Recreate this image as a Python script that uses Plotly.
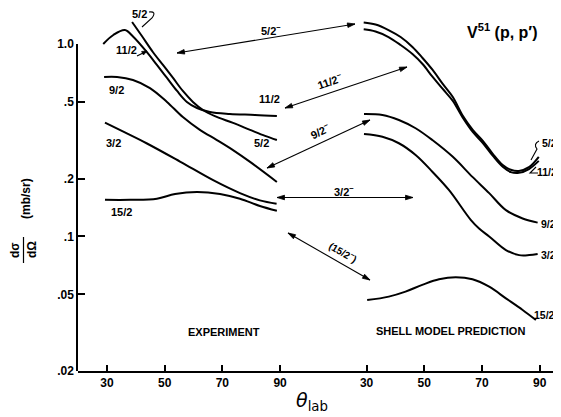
import math
import plotly.graph_objects as go

# ---------------- data (theta_lab in degrees, dsigma/dOmega in mb/sr) ----------------
# Experiment
exp_11_2_theta = [28.7, 32.2, 36.2, 39.1, 43.7, 47.3, 50.8, 54.3, 57.7, 61.2, 65.7, 72.6, 81.3, 88.9]
exp_11_2_val = [1.00, 1.114, 1.182, 1.091, 0.912, 0.778, 0.666, 0.570, 0.500, 0.465, 0.443, 0.433, 0.428, 0.422]

exp_5_2_theta = [38.7, 42.1, 45.9, 49.4, 52.9, 56.3, 59.8, 63.3, 67.4, 73.7, 79.6, 84.8, 88.9]
exp_5_2_val = [1.301, 1.100, 0.909, 0.778, 0.666, 0.570, 0.500, 0.454, 0.422, 0.389, 0.358, 0.333, 0.317]

exp_9_2_theta = [29.0, 33.5, 39.0, 44.9, 50.8, 56.3, 62.2, 68.1, 73.7, 79.6, 88.9]
exp_9_2_val = [0.674, 0.674, 0.650, 0.590, 0.500, 0.417, 0.358, 0.317, 0.281, 0.244, 0.192]

exp_3_2_theta = [29.3, 36.2, 43.7, 55.3, 66.8, 76.1, 83.0, 88.8]
exp_3_2_val = [0.390, 0.347, 0.305, 0.245, 0.196, 0.168, 0.154, 0.148]

exp_15_2_theta = [29.3, 38.0, 47.3, 53.6, 61.2, 69.2, 76.1, 83.0, 88.9]
exp_15_2_val = [0.155, 0.155, 0.157, 0.166, 0.170, 0.166, 0.157, 0.144, 0.136]

# Shell model prediction
sm_5_2_theta = [29.0, 33.1, 37.6, 41.8, 45.9, 49.4, 52.9, 56.4, 59.9, 63.3, 66.8, 70.3, 73.8, 77.2, 80.0, 82.8, 86.3, 89.7]
sm_5_2_val = [1.293, 1.263, 1.182, 1.087, 0.965, 0.846, 0.733, 0.620, 0.530, 0.425, 0.358, 0.314, 0.268, 0.235, 0.222, 0.219, 0.229, 0.259]

sm_11_2_theta = [29.0, 33.1, 37.6, 41.8, 45.9, 49.4, 52.9, 56.4, 59.9, 63.3, 66.8, 70.3, 73.8, 77.2, 80.0, 82.8, 86.3, 89.7]
sm_11_2_val = [1.192, 1.161, 1.087, 0.988, 0.887, 0.787, 0.674, 0.584, 0.506, 0.415, 0.349, 0.306, 0.262, 0.230, 0.216, 0.214, 0.224, 0.247]

sm_9_2_theta = [29.1, 35.5, 41.2, 47.0, 52.8, 59.8, 66.7, 72.5, 78.3, 84.1, 89.3]
sm_9_2_val = [0.433, 0.428, 0.403, 0.365, 0.317, 0.260, 0.204, 0.168, 0.137, 0.124, 0.118]

sm_3_2_theta = [29.1, 35.5, 41.2, 47.0, 52.8, 58.6, 66.1, 69.0, 72.5, 78.3, 82.9, 86.4, 89.3]
sm_3_2_val = [0.341, 0.330, 0.305, 0.265, 0.217, 0.174, 0.122, 0.110, 0.100, 0.085, 0.080, 0.080, 0.081]

sm_15_2_theta = [30.2, 37.7, 43.5, 49.3, 55.1, 60.9, 66.7, 72.5, 78.3, 84.1, 88.7]
sm_15_2_val = [0.0467, 0.0487, 0.0517, 0.0560, 0.0599, 0.0614, 0.0599, 0.0548, 0.0477, 0.0415, 0.0368]

x_tick_labels = ["30", "50", "70", "90", "30", "50", "70", "90"]
y_tick_vals = [0.02, 0.05, 0.1, 0.2, 0.5, 1.0]
y_tick_labels = [".02", ".05", ".1", ".2", ".5", "1.0"]

# ---------------- layout helpers ----------------
# The page body has an 8 px margin, so the figure is made 8 px smaller and all
# positions below are given in page pixels of the 561x417 window.
OFF = 90            # shell-model panel shares the x axis, shifted by this many degrees
PAGE = 8
W, H = 561 - PAGE, 417 - PAGE
PLOT_L, PLOT_T, PLOT_B, PLOT_R = 78, 8, 371, 561   # plot area in page pixels
L = PLOT_L - PAGE
T = PLOT_T - PAGE
B = (H + PAGE) - PLOT_B
PW = PLOT_R - PLOT_L
PH = PLOT_B - PLOT_T
Y_LO, Y_TOP = math.log10(0.02), 0.18701   # full data range (log10)
AXIS_TOP = 44                               # page row where the drawn y axis ends (value 1.0)


def px(x):
    return (x - PLOT_L) / PW


def py(y):
    return (PLOT_B - y) / PH


FONT = "Liberation Sans"
fig = go.Figure()

panels = [
    (0, [exp_11_2_theta, exp_5_2_theta, exp_9_2_theta, exp_3_2_theta, exp_15_2_theta],
     [exp_11_2_val, exp_5_2_val, exp_9_2_val, exp_3_2_val, exp_15_2_val]),
    (OFF, [sm_5_2_theta, sm_11_2_theta, sm_9_2_theta, sm_3_2_theta, sm_15_2_theta],
     [sm_5_2_val, sm_11_2_val, sm_9_2_val, sm_3_2_val, sm_15_2_val]),
]
for off, thetas, vals in panels:
    for th, v in zip(thetas, vals):
        fig.add_trace(go.Scatter(
            x=[t + off for t in th], y=v, mode="lines",
            line=dict(color="black", width=2, shape="spline", smoothing=1.0),
            showlegend=False, hoverinfo="skip"))

# empty trace that carries the visible (shorter) y axis
fig.add_trace(go.Scatter(x=[None], y=[None], yaxis="y2", mode="lines",
                         showlegend=False, hoverinfo="skip"))

annotations = []
shapes = []


def label(text, x, y, size=11, angle=0, weight="bold", family=FONT, anchor="center"):
    annotations.append(dict(
        text=text, x=px(x), y=py(y), xref="paper", yref="paper",
        showarrow=False, textangle=angle, xanchor=anchor, yanchor="middle",
        font=dict(family=family, size=size, color="black", weight=weight)))


def head(xt, yt, xf, yf, length=7.5, half=2.3):
    """filled arrow head with its tip at (xt, yt), pointing away from (xf, yf); page pixels"""
    d = math.hypot(xt - xf, yt - yf)
    ux, uy = (xt - xf) / d, (yt - yf) / d
    bx, by = xt - ux * length, yt - uy * length
    p1 = (bx - uy * half, by + ux * half)
    p2 = (bx + uy * half, by - ux * half)
    shapes.append(dict(
        type="path", xref="paper", yref="paper",
        path=f"M {px(xt)} {py(yt)} L {px(p1[0])} {py(p1[1])} L {px(p2[0])} {py(p2[1])} Z",
        fillcolor="black", line=dict(color="black", width=0.8)))


def arrow(x0, y0, x1, y1, both=True, length=7.5, half=2.3):
    shapes.append(dict(type="line", xref="paper", yref="paper",
                       x0=px(x0), y0=py(y0), x1=px(x1), y1=py(y1),
                       line=dict(color="black", width=1.1)))
    head(x1, y1, x0, y0, length, half)
    if both:
        head(x0, y0, x1, y1, length, half)


# curve labels, experiment side
label("5/2", 139, 14)
label("11/2", 126, 50)
label("9/2", 116, 90)
label("11/2", 269, 99)
label("3/2", 113, 143)
label("5/2", 261, 143)
label("15/2", 121, 212)
# curve labels, shell model side (right-aligned to the window edge)
label("5/2", 559, 143, size=10.5, anchor="right")
label("11/2", 559, 172, size=10.5, anchor="right")
label("9/2", 558, 224, size=10.5, anchor="right")
label("3/2", 558, 255, size=10.5, anchor="right")
label("15/2", 557, 315, size=10.5, anchor="right")

# correspondence arrows
arrow(177, 53, 355, 24)
label("5/2<sup>−</sup>", 271, 30)
arrow(285, 108, 407, 67)
label("11/2<sup>−</sup>", 330, 81, angle=-19)
arrow(267, 168, 370, 120)
label("9/2<sup>−</sup>", 320, 131, angle=-25)
arrow(277, 197.5, 413, 197.5)
label("3/2<sup>−</sup>", 344, 191)
arrow(288, 233, 370, 280)
label("(15/2<sup>−</sup>)", 343, 252, size=10, angle=30)

# small pointer for left 11/2
arrow(137, 56, 147, 51, both=False, length=5, half=2)

label("EXPERIMENT", 224, 332, size=11)
label("SHELL MODEL PREDICTION", 450, 331, size=11)
label("V<sup>51</sup> (p, p′)", 502, 31, size=16)

# axis titles
label("<i>θ</i><sub>lab</sub>", 312, 401, size=19, weight="normal", family="DejaVu Sans")
label("dσ", 15, 250, size=12, angle=-90)
label("dΩ", 32, 250, size=12, angle=-90)
label("(mb/sr)", 26, 199, size=12, angle=-90)

shapes += [
    # fraction bar of dσ/dΩ
    dict(type="line", xref="paper", yref="paper", x0=px(23.5), x1=px(23.5), y0=py(237), y1=py(263),
         line=dict(color="black", width=1.2)),
    # squiggle pointer for top-left 5/2
    dict(type="path", xref="paper", yref="paper",
         path=f"M {px(149)} {py(12)} Q {px(157)} {py(11)} {px(152)} {py(18)} L {px(142)} {py(27)}",
         line=dict(color="black", width=1.1)),
    # squiggle pointer for right 5/2
    dict(type="path", xref="paper", yref="paper",
         path=f"M {px(539)} {py(141)} Q {px(533)} {py(144)} {px(537)} {py(149)} L {px(531)} {py(160)}",
         line=dict(color="black", width=1.1)),
    # Z pointer for right 11/2
    dict(type="path", xref="paper", yref="paper",
         path=f"M {px(538)} {py(173)} L {px(530)} {py(173)} L {px(536)} {py(167)}",
         line=dict(color="black", width=1.1)),
]

fig.update_layout(
    width=W, height=H, autosize=False,
    margin=dict(l=L, r=0, t=T, b=B, pad=0, autoexpand=False),
    paper_bgcolor="white", plot_bgcolor="rgba(0,0,0,0)",
    annotations=annotations, shapes=shapes,
    xaxis=dict(range=[19.95, 187.4], tickvals=[30, 50, 70, 90, 30 + OFF, 50 + OFF, 70 + OFF, 90 + OFF],
               ticktext=x_tick_labels, ticks="inside", ticklen=6, tickwidth=1.5, tickcolor="black",
               showline=True, linecolor="black", linewidth=1.5, showgrid=False, zeroline=False,
               automargin=False, domain=[0, 1],
               tickfont=dict(family=FONT, size=12, color="black", weight="bold")),
    yaxis=dict(type="log", range=[Y_LO, Y_TOP], showticklabels=False, ticks="", showline=False,
               showgrid=False, zeroline=False, automargin=False, domain=[0, 1]),
    yaxis2=dict(type="log", range=[Y_LO, 0], domain=[0, py(AXIS_TOP)], anchor="x",
                tickvals=y_tick_vals, ticktext=y_tick_labels,
                ticks="inside", ticklen=7, tickwidth=1.5, tickcolor="black",
                showline=True, linecolor="black", linewidth=1.5,
                showgrid=False, zeroline=False, automargin=False,
                tickfont=dict(family=FONT, size=12, color="black", weight="bold")),
)

fig.write_html("out.html")
